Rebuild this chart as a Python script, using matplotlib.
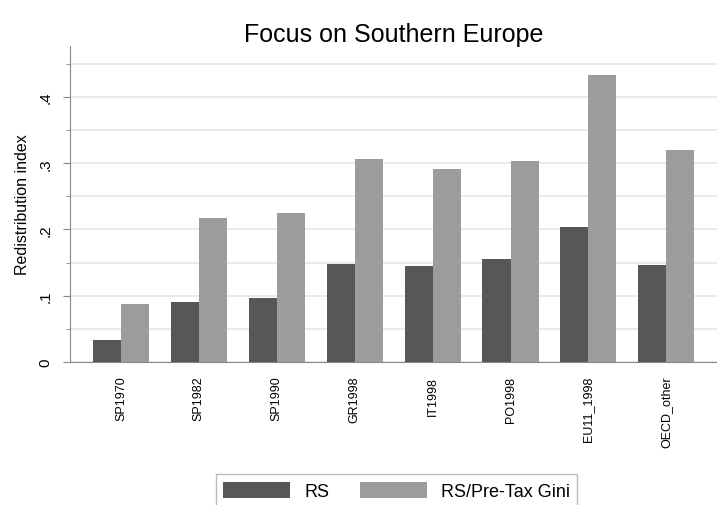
import numpy as np
import matplotlib.pyplot as plt

categories = ['SP1970', 'SP1982', 'SP1990', 'GR1998', 'IT1998', 'PO1998', 'EU11_1998', 'OECD_other']
rs = [0.033, 0.090, 0.097, 0.148, 0.145, 0.155, 0.204, 0.146]
rs_gini = [0.087, 0.217, 0.225, 0.306, 0.291, 0.303, 0.433, 0.320]
ytick_vals = [0, 0.1, 0.2, 0.3, 0.4]
ytick_labels = ['0', '.1', '.2', '.3', '.4']

plt.rcParams['font.family'] = ['Liberation Sans', 'DejaVu Sans']

fig = plt.figure(figsize=(7.17, 5.06), dpi=100)
ax = fig.add_axes([0.098, 0.283, 0.902, 0.624])

x = np.arange(len(categories))
w = 0.36
ax.bar(x - w/2, rs, w, color='#575757', label='RS', zorder=3)
ax.bar(x + w/2, rs_gini, w, color='#9c9c9c', label='RS/Pre-Tax Gini', zorder=3)

ax.set_xlim(-0.65, len(categories) - 0.35)
ax.set_ylim(0, 0.477)
ax.set_yticks(ytick_vals)
ax.set_yticklabels(ytick_labels, rotation=90, va='center', fontsize=11)
ax.set_yticks(np.arange(0.05, 0.46, 0.1), minor=True)
ax.grid(axis='y', which='both', color='#e6e6e6', linewidth=1.2, zorder=0)
ax.tick_params(axis='y', which='major', length=5, color='#888888', pad=8)
ax.tick_params(axis='y', which='minor', length=3, color='#888888')

ax.set_xticks(x)
ax.set_xticklabels(categories, rotation=90, fontsize=9)
ax.tick_params(axis='x', length=0, pad=10)

for s in ['top', 'right']:
    ax.spines[s].set_visible(False)
ax.spines['left'].set_color('#888888')
ax.spines['bottom'].set_color('#888888')

ax.set_ylabel('Redistribution index', fontsize=11.5, labelpad=6)
ax.set_title('Focus on Southern Europe', fontsize=18, pad=4)

fig.legend(loc='lower center', bbox_to_anchor=(0.553, -0.022), ncol=2, frameon=True,
           fancybox=False, edgecolor='#aaaaaa', fontsize=13, handlelength=3.7,
           handleheight=1.0, columnspacing=1.7, handletextpad=0.8)

fig.savefig('out.png', dpi=100)
